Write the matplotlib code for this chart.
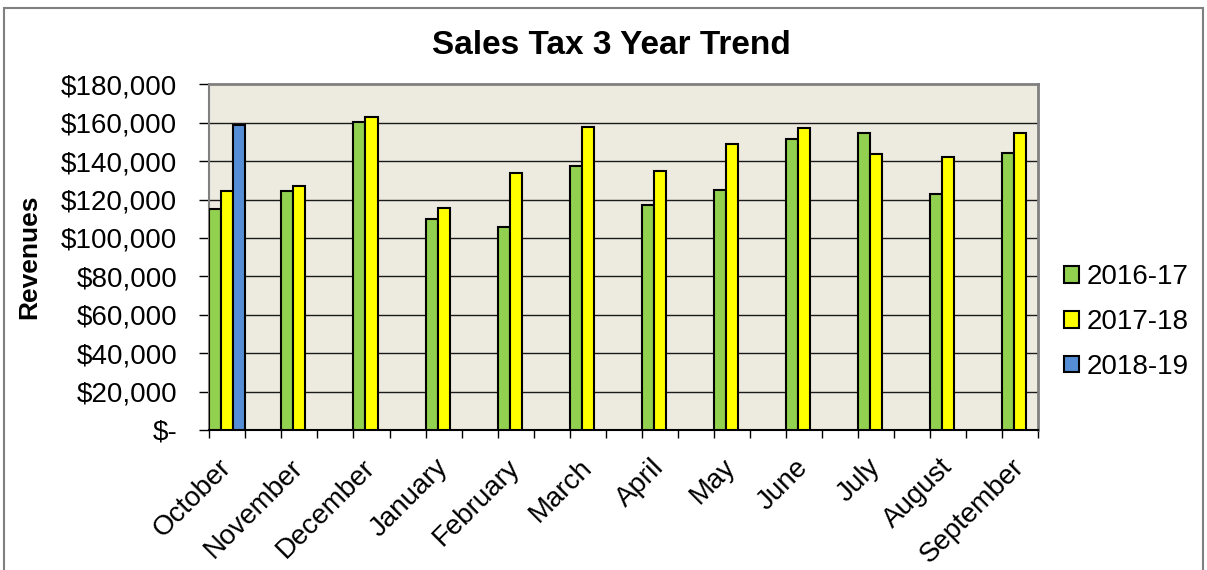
import numpy as np
import matplotlib
matplotlib.use("Agg")
import matplotlib.pyplot as plt
from matplotlib.ticker import FuncFormatter, FixedLocator
from matplotlib.patches import Rectangle

plt.rcParams['font.family'] = ['Liberation Sans', 'DejaVu Sans']

months = ["October", "November", "December", "January", "February", "March",
          "April", "May", "June", "July", "August", "September"]
series_names = ["2016-17", "2017-18", "2018-19"]
fy2017 = [115000, 124500, 160500, 110000, 105500, 137200, 117300, 125100, 151400, 154900, 122900, 144000]
fy2018 = [124500, 127000, 162800, 115400, 133800, 158000, 135100, 148800, 157100, 143600, 142100, 154900]
fy2019 = [159000] + [np.nan] * 11
colors = ["#92D050", "#FFFF00", "#558ED5"]

fig = plt.figure(figsize=(12.07, 5.70), dpi=100)
W, H = 1207, 570
ax = fig.add_axes([209.3 / W, 1 - 430 / H, (1038.3 - 209.3) / W, (430 - 84.3) / H])
ax.set_facecolor("#EDEBE0")

# 23 category slots, months on every other slot
pos = np.arange(len(months)) * 2
bw = 1 / 3
for k, (vals, c, name) in enumerate(zip([fy2017, fy2018, fy2019], colors, series_names)):
    ax.bar(pos + (k - 1) * bw, vals, width=bw, color=c, edgecolor="black",
           linewidth=1.5, label=name, zorder=3)

ax.set_xlim(-0.5, 22.5)
ax.set_ylim(0, 180000)
ax.set_yticks(np.arange(0, 180001, 20000))
ax.yaxis.set_major_formatter(FuncFormatter(lambda v, p: "$-" if v == 0 else "${:,.0f}".format(v)))
for yv in np.arange(20000, 180000, 20000):
    ax.axhline(yv, color="#1a1a1a", linewidth=1.0, zorder=1)

ax.set_xticks(pos)
ax.set_xticklabels(months, rotation=45, ha="right", va="center", rotation_mode="anchor", fontsize=20)
ax.tick_params(axis="x", length=0, pad=24)
ax.xaxis.set_minor_locator(FixedLocator(np.arange(-0.5, 23, 1)))
ax.tick_params(axis="x", which="minor", length=6, width=1, color="black", direction="out")
ax.tick_params(axis="y", length=7, width=1, color="black", direction="out", pad=16, labelsize=20)

for s in ["top", "right"]:
    ax.spines[s].set_color("#808080")
    ax.spines[s].set_linewidth(2)
ax.spines["left"].set_color("#808080")
ax.spines["left"].set_linewidth(1.5)
ax.spines["bottom"].set_color("black")
ax.spines["bottom"].set_linewidth(1.5)
ax.spines["top"].set_zorder(4)

ax.set_ylabel("Revenues", fontsize=19, fontweight="bold")
ax.yaxis.set_label_coords(-(209.3 - 41) / (1038.3 - 209.3), 0.5)

fig.text(611 / W, 1 - 46 / H, "Sales Tax 3 Year Trend", ha="center", va="center",
         fontsize=24, fontweight="bold")

leg = ax.legend(loc="center left", bbox_to_anchor=(1053 / W, 1 - 322 / H),
                bbox_transform=fig.transFigure, frameon=False, fontsize=20,
                handlelength=0.55, handleheight=0.55, handletextpad=0.25,
                labelspacing=0.68, borderaxespad=0)

fig.patches.append(Rectangle((4 / W, -0.1), (1203 - 4) / W, 1.1 - 8 / H, transform=fig.transFigure,
                             fill=False, edgecolor="#808080", linewidth=1.5))

fig.savefig("out.png", dpi=100)
